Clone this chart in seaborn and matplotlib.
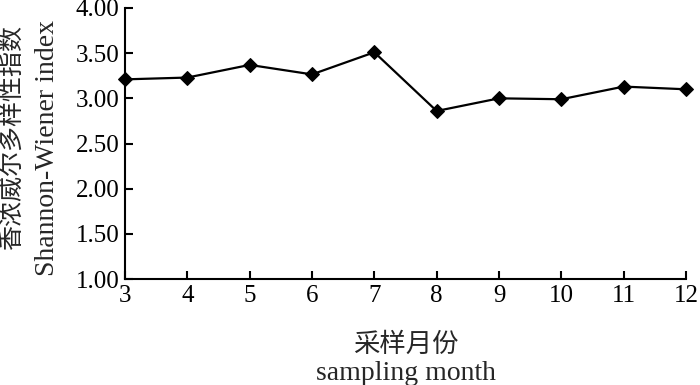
import matplotlib
matplotlib.use("Agg")
import matplotlib.pyplot as plt
import seaborn as sns
import pandas as pd

# data
months = [3, 4, 5, 6, 7, 8, 9, 10, 11, 12]
shannon = [3.21, 3.23, 3.37, 3.265, 3.51, 2.86, 3.00, 2.99, 3.13, 3.10]
y_ticks = [1.00, 1.50, 2.00, 2.50, 3.00, 3.50, 4.00]

df = pd.DataFrame({"month": months, "H": shannon})

sns.set_theme(style="ticks")
fonts = ["Liberation Serif", "Noto Sans CJK SC"]
plt.rcParams["font.family"] = fonts

W, H = 700, 385
fig, ax = plt.subplots(figsize=(7, 3.85), dpi=100)
fig.subplots_adjust(left=125 / W, right=686 / W, top=1 - 8 / H, bottom=1 - 279 / H)

sns.lineplot(data=df, x="month", y="H", ax=ax, color="black", linewidth=1.6,
             marker="D", markersize=7, markeredgecolor="black", clip_on=False)

ax.set_xlim(3, 12)
ax.set_ylim(1, 4)
ax.set_xticks(months)
ax.set_yticks(y_ticks)
ax.set_yticklabels(["{:.2f}".format(v) for v in y_ticks])
ax.tick_params(direction="in", length=6, width=1.5, labelsize=18, colors="black", pad=4)
sns.despine(ax=ax)
for s in ["left", "bottom"]:
    ax.spines[s].set_linewidth(1.5)
    ax.spines[s].set_color("black")
ax.set_xlabel("")
ax.set_ylabel("")

# axis titles (Chinese + English, two lines)
xc = (125 + 686) / 2 / W
fig.text(xc, 1 - 345 / H, "采样月份", ha="center", va="center", fontsize=19, family=fonts)
fig.text(xc, 1 - 373 / H, "sampling month", ha="center", va="center", fontsize=20, family=fonts)
fig.text(12 / W, 1 - 138 / H, "香浓威尔多样性指数", ha="center", va="center", rotation=90,
         fontsize=18, family=fonts)
fig.text(48 / W, 1 - 148 / H, "Shannon-Wiener index", ha="center", va="center", rotation=90,
         fontsize=20, family=fonts)

fig.savefig("out.png", dpi=100)
